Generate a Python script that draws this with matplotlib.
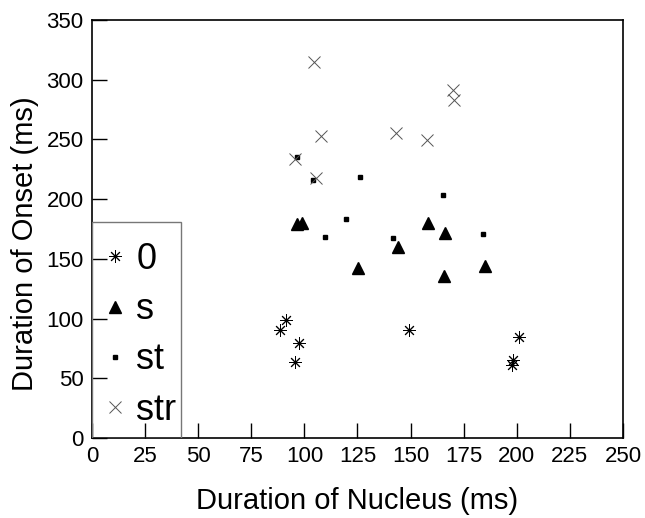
import matplotlib.pyplot as plt
from matplotlib.patches import Rectangle

plt.rcParams['font.family'] = ['Liberation Sans', 'DejaVu Sans']

# duration of nucleus (x) and onset (y) in ms, per onset type
x_0 = [88.5, 91.3, 97.5, 95.6, 149.2, 201.2, 198.1, 197.6]
y_0 = [90.5, 98.8, 79.6, 63.7, 90.5, 84.8, 65.3, 61.1]

x_s = [96.4, 98.7, 125.4, 143.9, 158.0, 166.4, 165.6, 185.0]
y_s = [179.2, 179.8, 142.1, 160.2, 179.8, 172.0, 135.7, 144.1]

x_st = [96.4, 104.0, 126.2, 119.4, 109.7, 165.3, 141.7, 183.9]
y_st = [235.6, 216.1, 218.8, 183.2, 168.6, 203.8, 167.8, 170.6]

x_str = [104.7, 108.0, 95.6, 105.5, 170.1, 170.6, 143.0, 157.6]
y_str = [315.2, 252.9, 233.4, 218.0, 291.5, 283.1, 255.2, 249.6]

xticks = [0, 25, 50, 75, 100, 125, 150, 175, 200, 225, 250]
yticks = [0, 50, 100, 150, 200, 250, 300, 350]

fig = plt.figure(figsize=(6.45, 5.18), dpi=100)
ax = fig.add_axes([0.1426, 0.1544, 0.8233, 0.807])

ax.plot(x_0, y_0, ls='none', marker=(8, 2, 0), ms=9, mew=0.7, color='black', label='0')
ax.plot(x_s, y_s, ls='none', marker='^', ms=9, color='black', label='s')
ax.plot(x_st, y_st, ls='none', marker='s', ms=3.5, color='black', label='st')
ax.plot(x_str, y_str, ls='none', marker='x', ms=9, mew=0.7, color='#555555', label='str')

ax.set_xlim(0, 250)
ax.set_ylim(0, 350)
ax.set_xticks(xticks)
ax.set_yticks(yticks)
ax.tick_params(direction='in', length=11, width=1, labelsize=16, pad=6,
               top=False, right=False)
for s in ax.spines.values():
    s.set_linewidth(1.2)

ax.set_xlabel('Duration of Nucleus (ms)', fontsize=21, labelpad=14)
ax.set_ylabel('Duration of Onset (ms)', fontsize=21)
ax.yaxis.set_label_coords(-0.100, 0.464)

# legend box sits in the lower-left corner, frame drawn separately
ax.add_patch(Rectangle((0, 0), 0.1676, 0.5167, transform=ax.transAxes,
                       fill=False, edgecolor='#777777', lw=1.0, zorder=4))
leg = ax.legend(loc='lower left', bbox_to_anchor=(0, 0.012), borderaxespad=0,
                fontsize=26, handlelength=1.0, handletextpad=0.08,
                labelspacing=0.42, borderpad=0.15, frameon=False)

fig.savefig('out.png', dpi=100)
